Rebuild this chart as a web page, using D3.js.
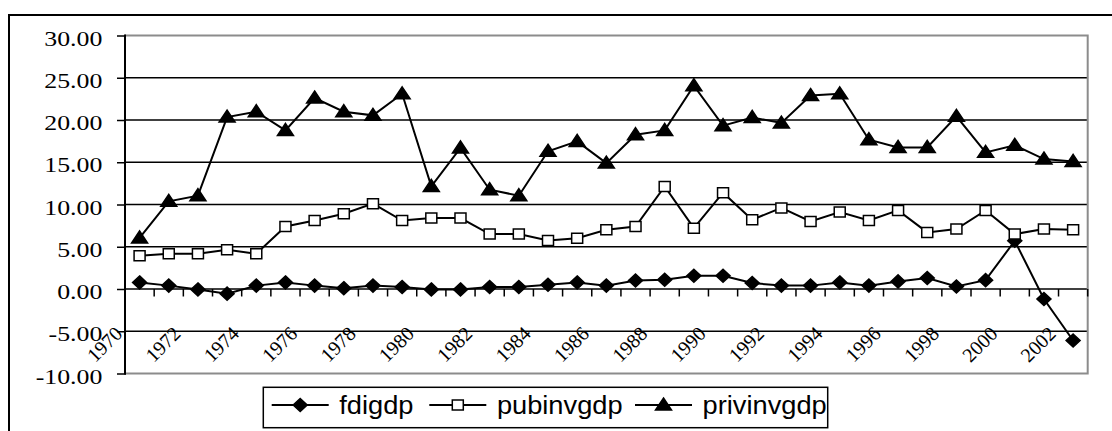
<!DOCTYPE html>
<html><head><meta charset="utf-8">
<script src="https://cdn.jsdelivr.net/npm/d3@7"></script>
<style>body{margin:0;background:#fff} svg{display:block}
.serif{font-family:"Liberation Serif","Times New Roman",Times,serif}
.sans{font-family:"Liberation Sans",Arial,Helvetica,sans-serif}
</style>
</head><body><svg id="c" width="1112" height="431"></svg>
<script>
const years = ["1970","1971","1972","1973","1974","1975","1976","1977","1978","1979","1980","1981","1982","1983","1984","1985","1986","1987","1988","1989","1990","1991","1992","1993","1994","1995","1996","1997","1998","1999","2000","2001","2002"];
const xLabelYears = ["1970","1972","1974","1976","1978","1980","1982","1984","1986","1988","1990","1992","1994","1996","1998","2000","2002"];
const yTicks = [-10,-5,0,5,10,15,20,25,30];
const seriesNames = ["fdigdp","pubinvgdp","privinvgdp"];
const fdigdp = [0.78,0.4,-0.05,-0.55,0.4,0.78,0.4,0.1,0.4,0.24,-0.05,-0.05,0.24,0.24,0.5,0.78,0.4,1.0,1.1,1.57,1.57,0.7,0.4,0.4,0.78,0.4,0.9,1.3,0.3,1.05,5.7,-1.18,-6.1];
const pubinvgdp = [3.94,4.18,4.18,4.65,4.18,7.4,8.1,8.9,10.1,8.1,8.4,8.4,6.5,6.5,5.75,6.0,7.0,7.4,12.14,7.2,11.4,8.2,9.6,8.0,9.1,8.1,9.3,6.7,7.1,9.3,6.5,7.1,7.0];
const privinvgdp = [6.04,10.37,11.04,20.35,20.98,18.77,22.6,20.98,20.55,23.1,12.14,16.7,11.75,11.04,16.3,17.47,14.9,18.26,18.77,24.06,19.33,20.3,19.64,22.9,23.1,17.67,16.76,16.76,20.43,16.17,17.0,15.38,15.1];

const svg = d3.select("#c");
const L = 125, R = 1087.7, T = 35.5, B = 373.5;
const x = d3.scaleBand().domain(years).range([L, R]).padding(0);
const y = d3.scaleLinear().domain([-10, 30]).range([B, T]);
const cx = d => x(d) + x.bandwidth() / 2;
const fmt = d3.formatLocale({decimal: ".", thousands: ",", grouping: [3], currency: ["$", ""], minus: "-"}).format(".2f");

// outer chart frame (cut off at right/bottom)
svg.append("path").attr("d", "M9,431 L9,15 L1112,15").attr("fill", "none").attr("stroke", "#000").attr("stroke-width", 2);

// gridlines
svg.append("g").selectAll("line").data(yTicks.filter(v => v > -10 && v < 30)).join("line")
  .attr("x1", L).attr("x2", R).attr("y1", d => y(d)).attr("y2", d => y(d))
  .attr("stroke", "#000").attr("stroke-width", 1.5);

// plot border (gray)
svg.append("path").attr("d", `M${L},${T} L${R},${T} L${R},${B} L${L},${B}`)
  .attr("fill", "none").attr("stroke", "#8c8c8c").attr("stroke-width", 2);

// y axis
const ya = svg.append("g").attr("transform", `translate(${L},0)`)
  .call(d3.axisLeft(y).tickValues(yTicks).tickSize(8).tickSizeOuter(0).tickFormat(fmt));
ya.attr("font-family", null).attr("font-size", null);
ya.select(".domain").remove();
ya.selectAll(".tick line").attr("stroke", "#000").attr("stroke-width", 1.5).attr("x2", -8).attr("x1", 1);
ya.selectAll(".tick text")
  .attr("class", "serif").style("font-size", "21px")
  .attr("fill", "#000").attr("x", -22.7 / 1.23).attr("dy", 9.5)
  .attr("transform", "scale(1.23,1)");
svg.append("line").attr("x1", L).attr("x2", L).attr("y1", T - 1).attr("y2", B + 1)
  .attr("stroke", "#000").attr("stroke-width", 2);

// x axis at 0: ticks at category boundaries
const y0 = y(0);
svg.append("g").selectAll("line").data(years).join("line")
  .attr("x1", d => x(d) + x.bandwidth()).attr("x2", d => x(d) + x.bandwidth())
  .attr("y1", y0).attr("y2", y0 + 7.5).attr("stroke", "#000").attr("stroke-width", 1.5);

svg.append("g").selectAll("text").data(xLabelYears).join("text")
  .attr("class", "serif").style("font-size", "20px")
  .attr("transform", d => `translate(${cx(d) - 16},${335}) rotate(-45)`)
  .attr("text-anchor", "end")
  .attr("fill", "#000").text(d => d);

// series
const seriesData = [fdigdp, pubinvgdp, privinvgdp];
const line = d3.line().x((d, i) => cx(years[i])).y(d => y(d));
const markerPath = {
  fdigdp: "M0,-6.5 L7,0 L0,6.5 L-7,0 Z",
  pubinvgdp: "M-5.5,-5 L5.5,-5 L5.5,5 L-5.5,5 Z",
  privinvgdp: "M0,-7 L8,5 L-8,5 Z"
};
const markerFill = {fdigdp: "#000", pubinvgdp: "#fff", privinvgdp: "#000"};

seriesNames.forEach((name, si) => {
  const vals = seriesData[si];
  const g = svg.append("g");
  g.append("path").datum(vals).attr("d", line).attr("fill", "none").attr("stroke", "#000").attr("stroke-width", 2);
  g.selectAll("path.m").data(vals).join("path").attr("class", "m")
    .attr("transform", (d, i) => `translate(${cx(years[i])},${y(d)})`)
    .attr("d", markerPath[name]).attr("fill", markerFill[name])
    .attr("stroke", "#000").attr("stroke-width", 1.5);
});

// legend
const lg = svg.append("g");
lg.append("rect").attr("x", 263.3).attr("y", 387.3).attr("width", 564.4).attr("height", 40.4)
  .attr("fill", "#fff").attr("stroke", "#000").attr("stroke-width", 1.5);
const legX = [271.7, 429.3, 635];
const ly = 405;
seriesNames.forEach((name, i) => {
  lg.append("line").attr("x1", legX[i]).attr("x2", legX[i] + 57).attr("y1", ly).attr("y2", ly)
    .attr("stroke", "#000").attr("stroke-width", 2);
  lg.append("path").attr("transform", `translate(${legX[i] + 28.5},${ly})`)
    .attr("d", markerPath[name]).attr("fill", markerFill[name]).attr("stroke", "#000").attr("stroke-width", 1.5);
  lg.append("text").attr("class", "sans").style("font-size", "25px")
    .attr("transform", `translate(${legX[i] + 67.6},${ly + 9}) scale(1.09,1)`)
    .attr("fill", "#000").text(name);
});
</script></body></html>
